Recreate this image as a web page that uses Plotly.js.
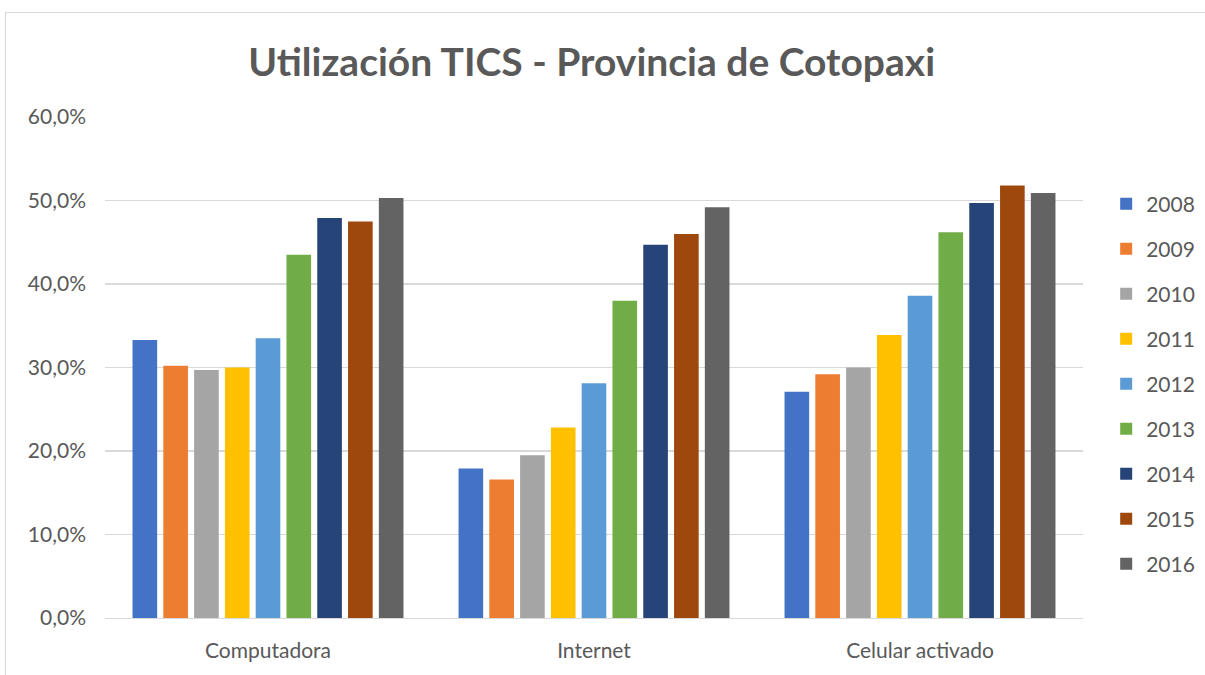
<!DOCTYPE html>
<html>
<head>
<meta charset="utf-8">
<script src="https://cdn.plot.ly/plotly-3.0.1.min.js"></script>
<style>
body{margin:0;padding:0;background:#fff;overflow:hidden;}
#chart{position:absolute;left:0;top:0;width:1205px;height:675px;}
#border{position:absolute;left:5px;top:12px;width:1400px;height:900px;border:1px solid #d9d9d9;pointer-events:none;}
</style>
</head>
<body>
<div id="chart"></div>
<div id="border"></div>
<script>
var categories = ["Computadora", "Internet", "Celular activado"];
var years = ["2008","2009","2010","2011","2012","2013","2014","2015","2016"];
var v2008 = [33.3, 17.9, 27.1];
var v2009 = [30.2, 16.6, 29.2];
var v2010 = [29.7, 19.5, 30.0];
var v2011 = [30.0, 22.8, 33.9];
var v2012 = [33.5, 28.1, 38.6];
var v2013 = [43.5, 38.0, 46.2];
var v2014 = [47.9, 44.7, 49.7];
var v2015 = [47.5, 46.0, 51.8];
var v2016 = [50.3, 49.2, 50.9];
var series = [v2008, v2009, v2010, v2011, v2012, v2013, v2014, v2015, v2016];
var colors = ["#4472C4","#ED7D31","#A5A5A5","#FFC000","#5B9BD5","#70AD47","#264478","#9E480E","#636363"];
var tickVals = [0,10,20,30,40,50,60];
var tickText = ["0,0%","10,0%","20,0%","30,0%","40,0%","50,0%","60,0%"];

var traces = series.map(function(s, i){
  return {
    type: 'bar',
    name: years[i],
    x: categories,
    y: s,
    marker: {color: colors[i]},
    legendgroup: 'g' + i,
    hoverinfo: 'x+y+name'
  };
});

var layout = {
  width: 1205,
  height: 675,
  paper_bgcolor: 'rgba(0,0,0,0)',
  plot_bgcolor: 'rgba(0,0,0,0)',
  font: {family: 'Lato, "Open Sans", sans-serif', color: '#595959', size: 21},
  title: {
    text: '<b>Utilización TICS - Provincia de Cotopaxi</b>',
    x: 0.491, xanchor: 'center',
    y: 0.908, yanchor: 'middle',
    font: {family: 'Lato, "Open Sans", sans-serif', size: 39, color: '#595959'}
  },
  margin: {l: 105, r: 122, t: 117, b: 57, autoexpand: false},
  barmode: 'group',
  bargap: 0.15,
  bargroupgap: 0.2,
  xaxis: {
    type: 'category',
    showgrid: false,
    showline: true,
    linecolor: '#d9d9d9',
    linewidth: 1,
    ticks: '',
    tickfont: {size: 21, color: '#595959'},
    ticklabelstandoff: 14
  },
  yaxis: {
    range: [0, 60],
    tickvals: tickVals,
    ticktext: tickText,
    showgrid: true,
    gridcolor: '#d9d9d9',
    gridwidth: 1.5,
    zeroline: false,
    showline: false,
    ticks: '',
    tickfont: {size: 21, color: '#595959'},
    ticklabelstandoff: 18
  },
  showlegend: true,
  legend: {
    xref: 'container', yref: 'container',
    x: 0.918, xanchor: 'left',
    y: 0.728, yanchor: 'top',
    traceorder: 'grouped',
    tracegroupgap: 14.7,
    itemwidth: 30,
    maxheight: 600,
    font: {size: 21, color: '#595959'},
    bgcolor: 'rgba(0,0,0,0)'
  }
};

Plotly.newPlot('chart', traces, layout, {displayModeBar: false, staticPlot: true});
</script>
</body>
</html>
